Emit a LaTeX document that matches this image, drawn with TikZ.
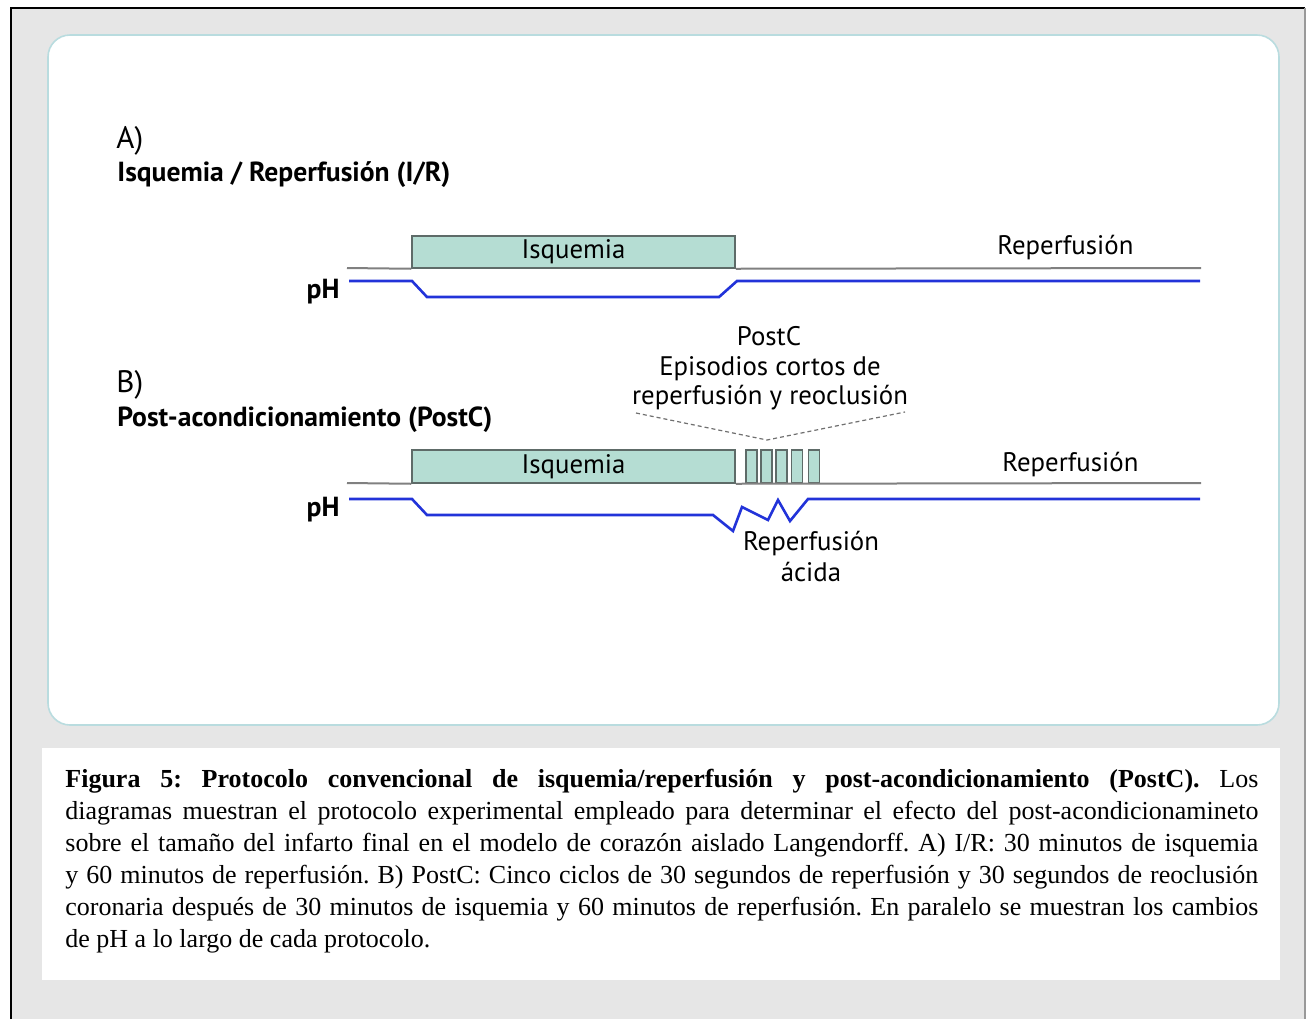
\documentclass[tikz,border=0pt]{standalone}
\usepackage{fontspec}
\setmainfont{Liberation Serif}
\newfontfamily\dfont{PT Sans}
\definecolor{bggray}{HTML}{E6E6E6}
\definecolor{panelline}{HTML}{B9DCDF}
\definecolor{tealfill}{HTML}{B5DDD3}
\definecolor{boxline}{HTML}{5E6B68}
\definecolor{basegray}{HTML}{808080}
\definecolor{phblue}{HTML}{2233D9}
\definecolor{dashgray}{HTML}{707070}
\tikzset{
  isbox/.style={draw=boxline, fill=tealfill, line width=0.75pt, inner sep=0pt, font=\dfont\fontsize{13.4}{16}\selectfont},
  baseline/.style={draw=basegray, line width=1pt},
  phline/.style={draw=phblue, line width=1.3pt, line join=miter},
  lbl/.style={font=\dfont\fontsize{13.4}{16}\selectfont, inner sep=0pt},
  blbl/.style={font=\dfont\bfseries\fontsize{13.8}{16}\selectfont, inner sep=0pt},
  dashln/.style={draw=dashgray, line width=0.6pt, dash pattern=on 2pt off 1.5pt},
}
\begin{document}
\begin{tikzpicture}[x=0.5pt,y=-0.5pt]
\useasboundingbox (0,0) rectangle (1308,1019);
% background frame
\fill[white] (0,0) rectangle (1308,1019);
\fill[bggray] (11,8) rectangle (1305,1019);
\draw[black, line width=0.8pt] (11,1019) -- (11,8) -- (1305,8);
\draw[gray!80, line width=0.8pt] (1305,8) -- (1305,1019);
% panel
\draw[panelline, fill=white, line width=0.8pt, rounded corners=11pt] (48,35) rectangle (1279,725);
% caption box
\fill[white] (42,748) rectangle (1280,980);

% ---------- A ----------
\node[lbl, anchor=base west] (Alab) at (116,148) {\fontsize{15.5}{18}\selectfont A)};
\node[blbl, anchor=base west] (Atitle) at (117,181) {Isquemia / Reperfusión (I/R)};
\node[isbox, minimum width=161.5pt, minimum height=16pt] (Abox) at (573.5,252) {Isquemia};
\node[lbl, anchor=base west] (Arep) at (997,254) {Reperfusión};
\node[blbl, anchor=base east] (AphL) at (340,298) {pH};
\coordinate (Abl0) at (347,268);
\coordinate (Abl1) at (1201,268);
\draw[baseline] (Abl0) -- (Abox.south west) (Abox.south east) -- (Abl1);
\coordinate (Aph0) at (349,281);
\coordinate (Aph1) at (412,281);
\coordinate (Aph2) at (427,297);
\coordinate (Aph3) at (719,297);
\coordinate (Aph4) at (737,281);
\coordinate (Aph5) at (1200,281);
\draw[phline] (Aph0) -- (Aph1) -- (Aph2) -- (Aph3) -- (Aph4) -- (Aph5);

% ---------- B ----------
\node[lbl, anchor=base west] (Blab) at (116,392) {\fontsize{15.5}{18}\selectfont B)};
\node[blbl, anchor=base west] (Btitle) at (117,426) {Post-acondicionamiento (PostC)};
\node[lbl, anchor=base] (pc1) at (769,345) {PostC};
\node[lbl, anchor=base] (pc2) at (770,375) {Episodios cortos de};
\node[lbl, anchor=base] (pc3) at (770,404) {reperfusión y reoclusión};
\coordinate (dL) at (636,413);
\coordinate (dM) at (767,440);
\coordinate (dR) at (905,412);
\draw[dashln] (dL) -- (dM) -- (dR);
\node[isbox, minimum width=161.5pt, minimum height=16.5pt] (Bbox) at (573.5,466.5) {Isquemia};
\foreach \cx/\nm in {751.5/s1,766.5/s2,781.5/s3,797/s4,814/s5}{
  \node[isbox, minimum width=5.5pt, minimum height=16.5pt] (\nm) at (\cx,466.5) {};
}
\node[lbl, anchor=base west] (Brep) at (1002,471) {Reperfusión};
\node[blbl, anchor=base east] (BphL) at (340,516) {pH};
\node[lbl, anchor=base] (ac1) at (811,550) {Reperfusión};
\node[lbl, anchor=base] (ac2) at (811,581) {ácida};
\coordinate (Bbl0) at (347,483);
\coordinate (Bbl1) at (1201,483);
\draw[baseline] (Bbl0) -- (Bbox.south west) (Bbox.south east) -- (Bbl1);
\coordinate (Bph0) at (349,499);
\coordinate (Bph1) at (412,499);
\coordinate (Bph2) at (427,515);
\coordinate (Bph3) at (713,515);
\coordinate (z1) at (733,531);
\coordinate (z2) at (742,507);
\coordinate (z3) at (768,520);
\coordinate (z4) at (778,500);
\coordinate (z5) at (790,521);
\coordinate (z6) at (808,499);
\coordinate (Bph5) at (1200,499);
\draw[phline] (Bph0) -- (Bph1) -- (Bph2) -- (Bph3) -- (z1) -- (z2) -- (z3) -- (z4) -- (z5) -- (z6) -- (Bph5);

% ---------- caption ----------
\node[anchor=north west, inner sep=0pt, text width=596.5pt, align=justify,
      font=\fontsize{13}{16}\selectfont] (cap) at (65,769)
{\frenchspacing\spaceskip=0.25em plus 0.5em minus 0.12em\hyphenpenalty=10000
\textbf{Figura 5: Protocolo convencional de isquemia/reperfusión y post-acondicionamiento (PostC).} Los\linebreak
diagramas muestran el protocolo experimental empleado para determinar el efecto del post-acondicionamineto\linebreak
sobre el tamaño del infarto final en el modelo de corazón aislado Langendorff. A) I/R: 30 minutos de isquemia\linebreak
y 60 minutos de reperfusión. B) PostC: Cinco ciclos de 30 segundos de reperfusión y 30 segundos de reoclusión\linebreak
coronaria después de 30 minutos de isquemia y 60 minutos de reperfusión. En paralelo se muestran los cambios\linebreak
de pH a lo largo de cada protocolo.};
\end{tikzpicture}
\end{document}
